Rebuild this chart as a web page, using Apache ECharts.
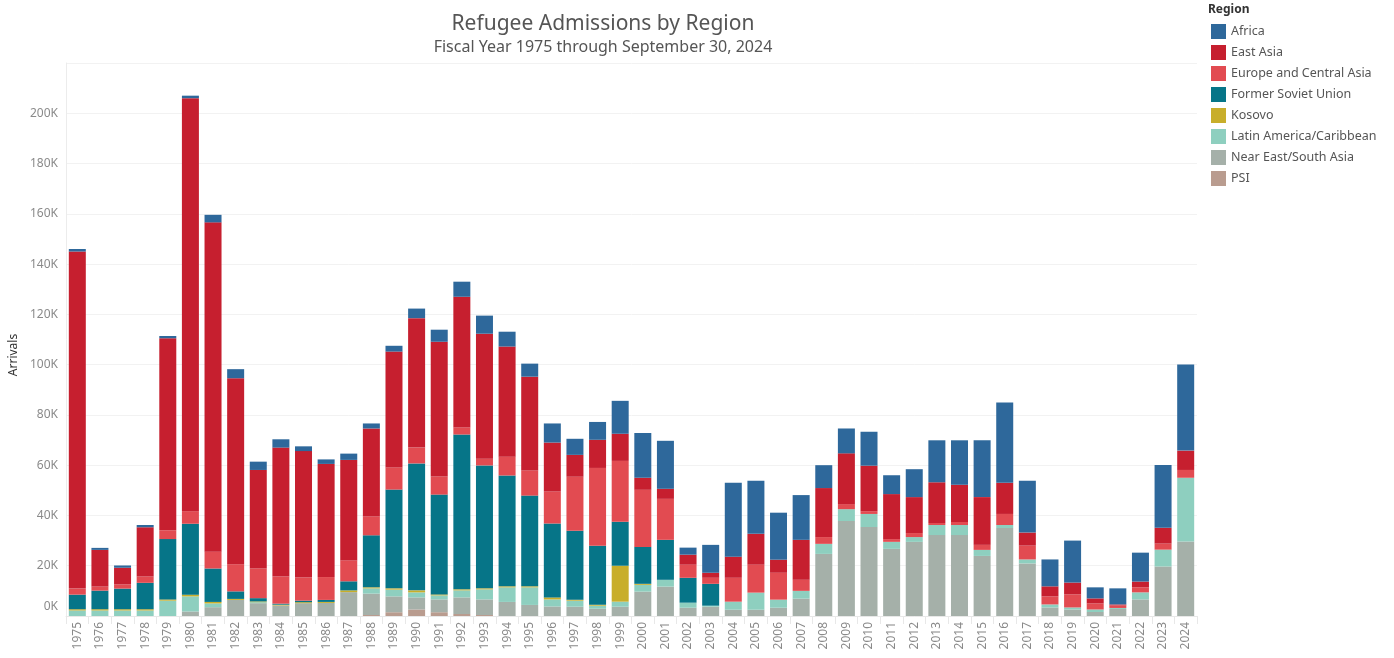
<!DOCTYPE html>
<html>
<head>
<meta charset="utf-8">
<script src="https://cdn.jsdelivr.net/npm/echarts@6/dist/echarts.min.js"></script>
<style>
html,body{margin:0;padding:0;background:#fff;}
#chart{width:1394px;height:658px;}
</style>
</head>
<body>
<div id="chart"></div>
<script>
// Fiscal years
const years = ['1975','1976','1977','1978','1979','1980','1981','1982','1983','1984','1985','1986','1987','1988','1989','1990','1991','1992','1993','1994','1995','1996','1997','1998','1999','2000','2001','2002','2003','2004','2005','2006','2007','2008','2009','2010','2011','2012','2013','2014','2015','2016','2017','2018','2019','2020','2021','2022','2023','2024'];

// Arrivals in thousands, per region
const psi =        [0,0,0,0,0,0,0,0,0,0,0,0,0,0.4,1.5,2.6,1.5,0.8,0.4,0,0,0,0,0,0,0,0,0,0,0,0,0,0,0,0,0,0,0,0,0,0,0,0,0,0,0,0,0,0,0];
const nearEast =   [0,0,0,0,0,1.8,3.5,6.4,5.1,4.2,5.1,5.2,9.5,8.5,6.3,4.8,5.1,6.6,6.2,5.6,4.4,3.8,3.7,2.9,3.7,9.7,11.7,3.3,3.7,2.5,2.5,3.3,6.9,24.7,37.8,35.4,26.7,29.5,32.2,32.2,23.9,35.0,20.9,3.4,2.6,1.6,2.8,6.6,19.7,29.6];
const latAm =      [2.2,2.2,2.2,2.2,6.1,6.0,1.5,0,0.4,0,0,0,0,2.1,2.7,2.0,1.6,2.8,4.0,5.8,7.0,2.8,2.4,1.2,2.0,2.7,2.7,2.0,0.4,3.2,6.8,3.2,3.1,4.0,4.7,5.2,2.8,1.9,4.0,4.0,2.4,1.2,1.6,1.2,0.8,1.0,0.4,2.8,6.7,25.4];
const kosovo =     [0.5,0.5,0.5,0.5,0.5,0.7,0.6,0.4,0.3,0.3,0.4,0.4,0.7,0.4,0.5,0.8,0.4,0.4,0.4,0.4,0.4,0.8,0.4,0.4,14.3,0.4,0,0,0,0,0,0,0,0,0,0,0,0,0,0,0,0,0,0,0,0,0,0,0,0];
const fsu =        [5.8,7.4,8.2,10.5,24.0,28.2,13.3,3.0,1.3,0.4,0.6,0.8,3.6,20.7,39.3,50.5,39.7,61.6,48.9,44.1,36.1,29.4,27.4,23.4,17.5,14.7,15.9,9.9,8.7,0,0,0,0,0,0,0,0,0,0,0,0,0,0,0,0,0,0,0,0,0];
const europe =     [2.4,1.6,1.7,2.5,3.5,5.0,6.7,10.8,11.8,10.8,9.2,9.1,8.3,7.5,8.8,6.3,7.2,2.8,2.7,7.5,10.0,12.7,21.5,31.0,24.2,22.7,16.3,5.2,2.4,9.5,11.1,10.7,4.4,2.7,2.0,1.1,1.1,1.6,0.8,1.2,2.0,4.4,5.5,3.2,5.2,2.4,1.0,2.0,2.4,3.1];
const eastAsia =   [134.1,14.6,6.6,19.6,76.4,164.3,131.0,74.0,39.2,51.3,50.3,45.0,40.0,35.0,46.1,51.5,53.6,52.0,49.7,43.8,37.3,19.5,8.7,11.2,10.8,4.8,4.0,4.0,2.0,8.4,12.3,5.2,15.9,19.5,20.2,18.1,17.9,14.3,16.2,14.8,19.0,12.4,5.2,4.0,4.7,2.0,0.4,2.3,6.3,7.7];
const africa =     [1.0,0.8,0.9,0.9,0.9,1.0,3.0,3.6,3.3,3.3,1.9,1.8,2.5,2.0,2.3,3.8,4.8,6.0,7.2,5.9,5.2,7.6,6.4,7.1,13.1,17.8,19.1,2.8,11.1,29.4,21.1,18.7,17.8,9.1,9.9,13.5,7.5,11.1,16.7,17.7,22.6,31.9,20.6,10.7,16.7,4.4,6.4,11.5,25.0,34.3];

const legendOrder = ['Africa','East Asia','Europe and Central Asia','Former Soviet Union','Kosovo','Latin America/Caribbean','Near East/South Asia','PSI'];

// stacked bottom to top
const stackSeries = [
  {name:'PSI', data:psi, color:'#b99c8f'},
  {name:'Near East/South Asia', data:nearEast, color:'#a5b0a9'},
  {name:'Latin America/Caribbean', data:latAm, color:'#8ecfbf'},
  {name:'Kosovo', data:kosovo, color:'#c8ae2b'},
  {name:'Former Soviet Union', data:fsu, color:'#067588'},
  {name:'Europe and Central Asia', data:europe, color:'#e24b51'},
  {name:'East Asia', data:eastAsia, color:'#c61f2f'},
  {name:'Africa', data:africa, color:'#2e689b'}
];

const FONT = '"Noto Sans", sans-serif';
const chart = echarts.init(document.getElementById('chart'), null, {renderer:'canvas'});

chart.setOption({
  animation:false,
  backgroundColor:'#fff',
  textStyle:{fontFamily:FONT},
  title:[{
    text:'Refugee Admissions by Region',
    subtext:'Fiscal Year 1975 through September 30, 2024',
    left:598, textAlign:'center', top:9,
    textStyle:{fontFamily:FONT,fontSize:21,fontWeight:'normal',color:'#555'},
    subtextStyle:{fontFamily:FONT,fontSize:16,color:'#555'},
    itemGap:4
  }],
  graphic:[
    {type:'text', left:1208, top:4, style:{text:'Region', font:'bold 12px "Noto Sans", sans-serif', fill:'#333'}},
    {type:'text', x:8, y:355, rotation:Math.PI/2, style:{text:'Arrivals', font:'12px "Noto Sans", sans-serif', fill:'#333', align:'center', verticalAlign:'top'}}
  ],
  legend:{
    data:legendOrder,
    orient:'vertical',
    left:1206, top:19,
    itemWidth:15, itemHeight:15, itemGap:6,
    icon:'rect',
    textStyle:{fontFamily:FONT,fontSize:12.5,color:'#555',padding:[0,0,0,0]},
    selectedMode:false
  },
  grid:{left:66, right:197, top:63, bottom:42, containLabel:false},
  xAxis:{
    type:'category',
    data:years,
    axisLine:{show:true,lineStyle:{color:'#e8e8e8'}},
    axisTick:{show:true,length:8,lineStyle:{color:'#e8e8e8'}},
    axisLabel:{rotate:90,fontSize:12,color:'#8a8a8a',margin:6,fontFamily:FONT}
  },
  yAxis:{
    type:'value',
    min:0, max:220, interval:20,
    axisLine:{show:true,lineStyle:{color:'#ececec'}},
    axisTick:{show:false},
    splitLine:{show:true,lineStyle:{color:'#f2f2f2'}},
    axisLabel:{
      color:'#8a8a8a', fontSize:12, margin:8, fontFamily:FONT,
      formatter:function(v){ if(v>=220) return ''; if(v===0) return '{z|0K}'; return v+'K'; },
      rich:{z:{color:'#8a8a8a',fontSize:12,fontFamily:FONT,padding:[0,0,18,0]}}
    }
  },
  series:stackSeries.map(s=>({
    name:s.name, type:'bar', stack:'total', data:s.data,
    barWidth:17,
    itemStyle:{color:s.color},
    emphasis:{disabled:true}
  }))
});
</script>
</body>
</html>
